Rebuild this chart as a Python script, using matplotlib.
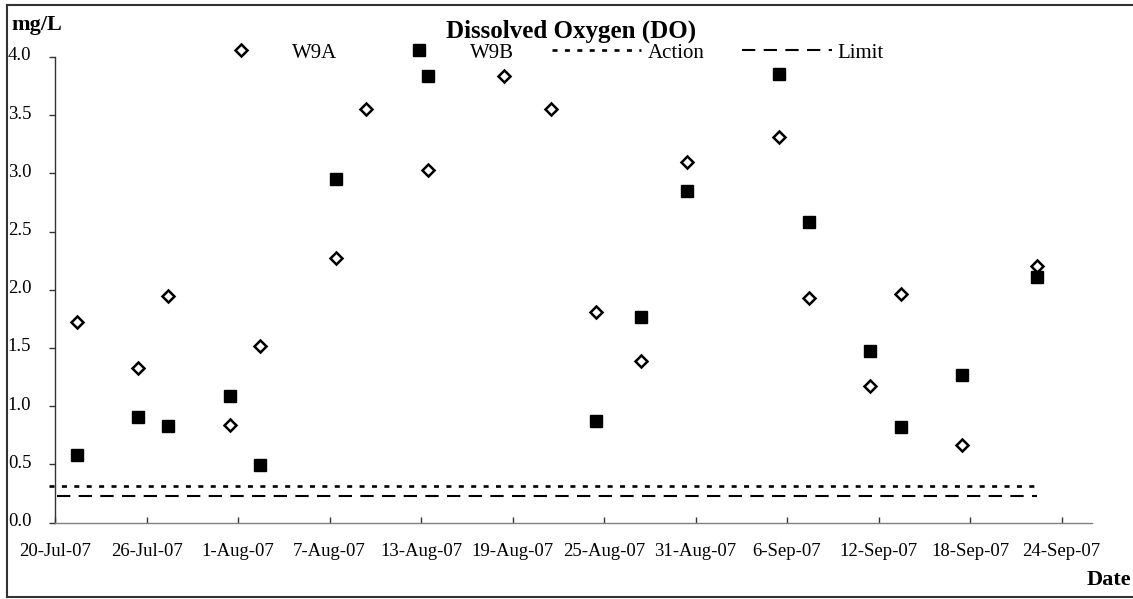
import numpy as np
import pandas as pd
import matplotlib
matplotlib.use('Agg')
import matplotlib.pyplot as plt
import matplotlib.dates as mdates
from matplotlib.lines import Line2D
from matplotlib.transforms import ScaledTranslation

plt.rcParams['font.family'] = ['Liberation Serif', 'DejaVu Serif']

# sampling dates (W9A / W9B share the same visits)
dates = pd.to_datetime([
    '2007-07-21 10:00', '2007-07-25 10:00', '2007-07-27 10:00', '2007-07-31 11:00',
    '2007-08-02 10:00', '2007-08-07 10:00', '2007-08-09 10:00', '2007-08-13 11:00',
    '2007-08-18 11:00', '2007-08-21 12:00', '2007-08-24 11:00', '2007-08-27 11:00',
    '2007-08-30 11:00', '2007-09-05 11:00', '2007-09-07 11:00', '2007-09-11 10:00',
    '2007-09-13 12:00', '2007-09-17 11:00', '2007-09-22 10:00',
])
w9a = [1.72, 1.33, 1.95, 0.84, 1.52, 2.27, 3.55, 3.03, 3.84, 3.55,
       1.81, 1.39, 3.10, 3.31, 1.93, 1.17, 1.96, 0.67, 2.20]
w9b = [0.58, 0.91, 0.83, 1.09, 0.49, 2.95, np.nan, 3.84, np.nan, np.nan,
       0.87, 1.77, 2.85, 3.85, 2.58, 1.47, 0.82, 1.27, 2.11]

action_dates = pd.to_datetime(['2007-07-19 14:00', '2007-09-22 06:00'])
action_vals = [0.31, 0.31]
limit_dates = pd.to_datetime(['2007-07-20 03:00', '2007-09-22 10:00'])
limit_vals = [0.23, 0.23]

tick_dates = pd.date_range('2007-07-20', '2007-09-24', freq='6D')
yticks = [0.0, 0.5, 1.0, 1.5, 2.0, 2.5, 3.0, 3.5, 4.0]

fig = plt.figure(figsize=(11.33, 5.99), dpi=100)
ax = fig.add_axes([55 / 1133, 1 - 522.5 / 599, (1092 - 55) / 1133, (522.5 - 57) / 599])

ax.plot(dates, w9a, linestyle='none', marker='D', markersize=5.8,
        markerfacecolor='white', markeredgecolor='black', markeredgewidth=1.8,
        label='W9A')
ax.plot(dates, w9b, linestyle='none', marker='s', markersize=8,
        markerfacecolor='black', markeredgecolor='black', label='W9B')
ax.plot(action_dates, action_vals, color='black', lw=1.9,
        linestyle=(0, (1.9, 2.8)), clip_on=False, label='Action')
ax.plot(limit_dates, limit_vals, color='black', lw=1.5,
        linestyle=(0, (6.4, 4.0)), label='Limit')

ax.set_xlim(pd.Timestamp('2007-07-20'), pd.Timestamp('2007-09-26'))
ax.set_ylim(0, 4.0)
ax.set_xticks(tick_dates)
ax.xaxis.set_major_formatter(
    plt.FuncFormatter(lambda v, p: (lambda d: f"{d.day}-{d:%b-%y}")(mdates.num2date(v))))
ax.set_yticks(yticks)
ax.yaxis.set_major_formatter(plt.FuncFormatter(lambda v, p: f"{v:.1f}"))

for s in ['top', 'right']:
    ax.spines[s].set_visible(False)
ax.spines['bottom'].set_color('#808080')
ax.spines['left'].set_color('#333333')
ax.spines['bottom'].set_linewidth(1.0)
ax.spines['left'].set_linewidth(1.0)

ax.tick_params(axis='x', direction='in', length=4, width=1, color='#333333',
               labelsize=13.5, pad=15)
ax.tick_params(axis='y', direction='out', length=4, width=1, color='#333333',
               labelsize=13.5, pad=13)
offset = ScaledTranslation(0, 3 / 100, fig.dpi_scale_trans)
for lab in ax.get_yticklabels():
    lab.set_transform(lab.get_transform() + offset)

leg = fig.legend(loc='center', bbox_to_anchor=(540 / 1133, 1 - 53 / 599), ncol=4,
                 frameon=False, fontsize=15, handlelength=4.3, handletextpad=0.3,
                 columnspacing=1.8, numpoints=1, borderpad=0)

fig.text(571 / 1133, 1 - 31 / 599, 'Dissolved Oxygen (DO)', ha='center', va='center',
         fontsize=18, fontweight='bold')
fig.text(11 / 1133, 1 - 25 / 599, 'mg/L', ha='left', va='center',
         fontsize=16, fontweight='bold')
fig.text(1131 / 1133, 1 - 580 / 599, 'Date', ha='right', va='center',
         fontsize=16, fontweight='bold')

# outer frame (no right edge)
frame_kw = dict(transform=fig.transFigure, color='#333333', lw=1.5)
fig.add_artist(Line2D([7 / 1133, 1], [1 - 5 / 599, 1 - 5 / 599], **frame_kw))
fig.add_artist(Line2D([7 / 1133, 7 / 1133], [1 - 5 / 599, 1 - 597 / 599], **frame_kw))
fig.add_artist(Line2D([7 / 1133, 1], [1 - 597 / 599, 1 - 597 / 599], **frame_kw))

fig.savefig('out.png', dpi=100, facecolor='white')
